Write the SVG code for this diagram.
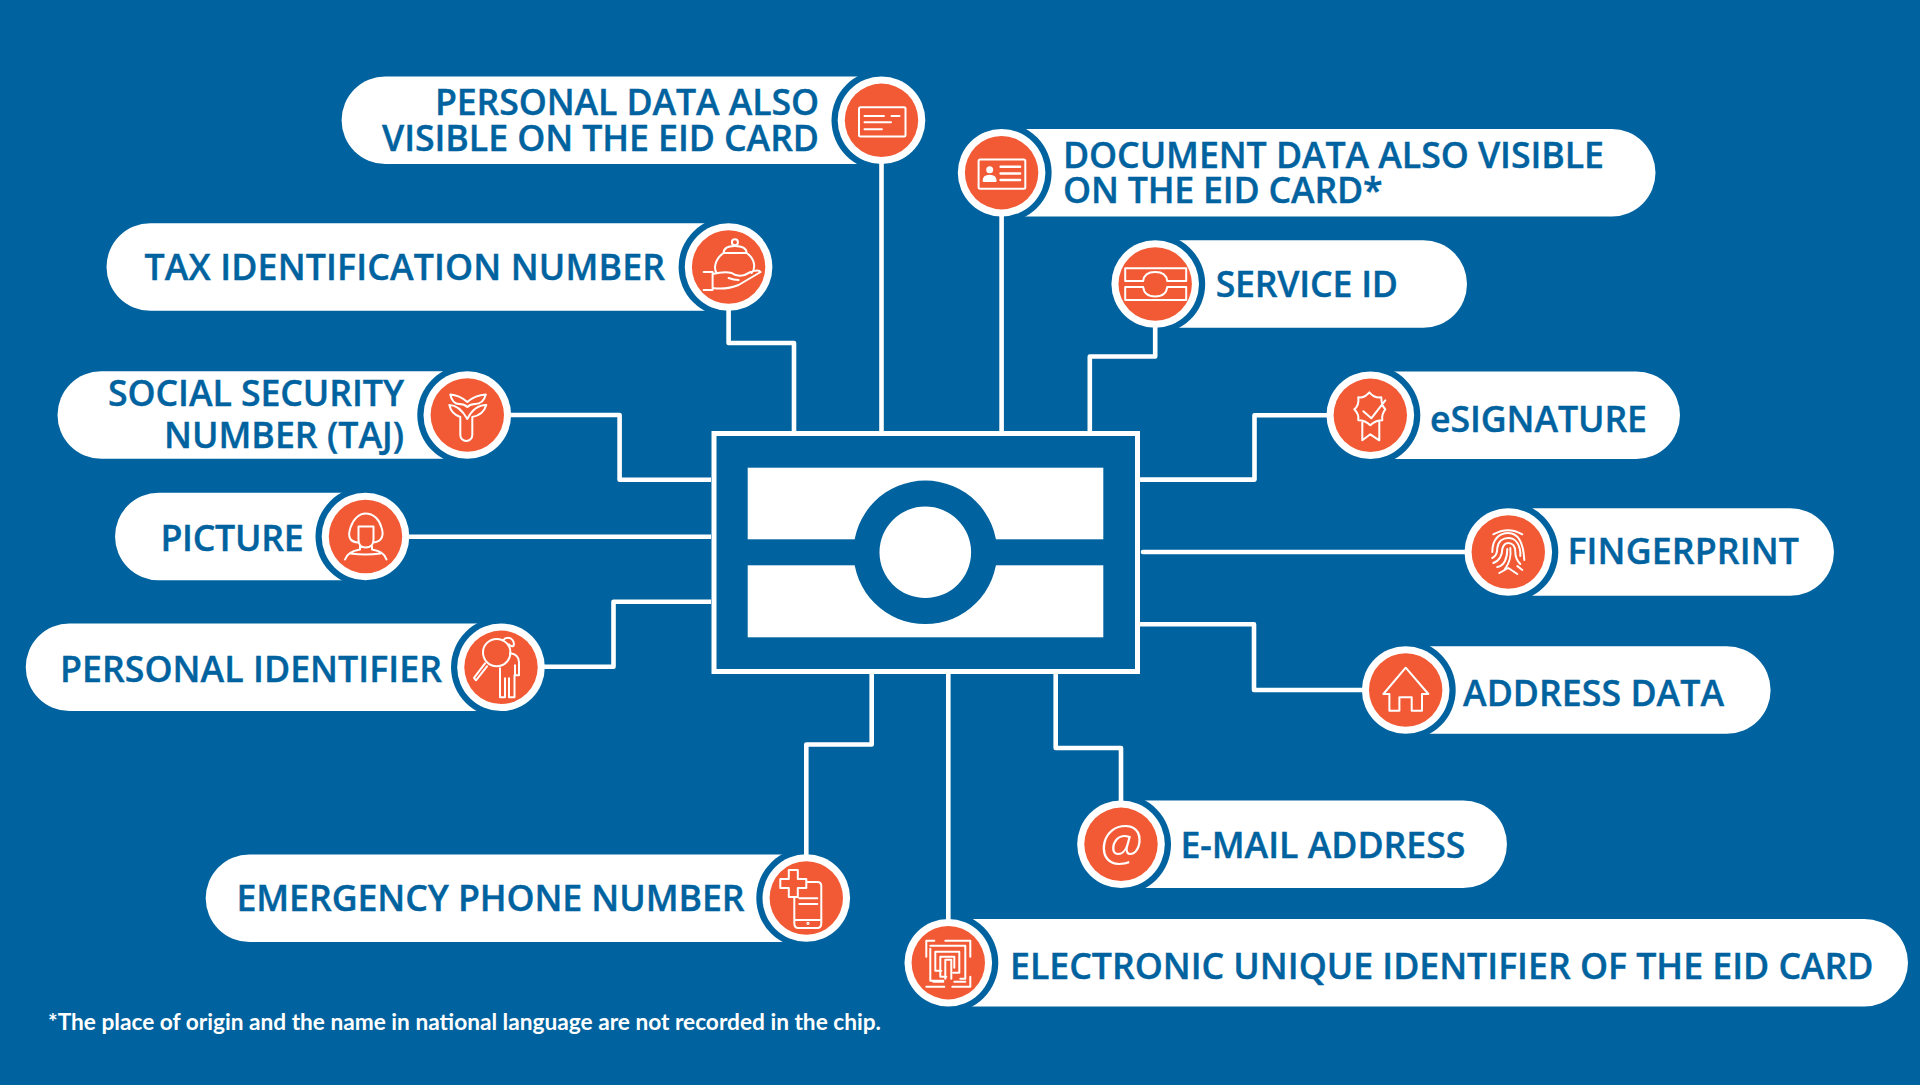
<svg xmlns="http://www.w3.org/2000/svg" width="1920" height="1085" viewBox="0 0 1920 1085">
<style>
.pill{fill:#fff}
.halo{fill:#00639f}
.ring{fill:#fff}
.disc{fill:#f15a35}
.lbl{font-family:"Open Sans","Liberation Sans",sans-serif;font-weight:600;font-size:35.700px;fill:#00639f;stroke:#00639f;stroke-width:.4}
.end{text-anchor:end}
.ic{fill:none;stroke:#fff;stroke-width:2;stroke-linecap:round;stroke-linejoin:round}
.con{fill:none;stroke:#fff;stroke-width:4.600;stroke-linejoin:round}
</style>
<defs>
<g id="badge"><circle class="halo" r="50"/><circle class="ring" r="43.800"/><circle class="disc" r="36.700"/></g>
</defs>
<rect width="1920" height="1085" fill="#00639f"/>
<g id="chip">
<rect x="714" y="433.500" width="423.500" height="238" fill="#00639f" stroke="#fff" stroke-width="5"/>
<rect x="747.700" y="467.700" width="355.600" height="71.600" fill="#fff"/>
<rect x="747.700" y="565.300" width="355.600" height="72" fill="#fff"/>
<circle cx="925.300" cy="552.300" r="71.800" fill="#00639f"/>
<circle cx="925.300" cy="552.300" r="45.800" fill="#fff"/>
</g>
<g id="node-personal-data">
<path class="pill" d="M385.400 76.500H880V164.100H385.400A43.800 43.800 0 0 1 385.400 76.500Z"/>
<use href="#badge" x="881.500" y="120.300"/>
<text class="lbl end" x="819" y="115" textLength="384">PERSONAL DATA ALSO</text>
<text class="lbl end" x="819" y="150.700" textLength="437">VISIBLE ON THE EID CARD</text>
<g class="ic" transform="translate(881.500 120.300)"><rect x="-22.500" y="-13" width="46.500" height="29.300" rx="1.500"/><path d="M-17-4.300H2.400M10-4.300H18M-17 2H9.500M-17 9H.4"/></g>
</g>
<g id="node-tax">
<path class="pill" d="M150.300 223.200H727V310.800H150.300A43.800 43.800 0 0 1 150.300 223.200Z"/>
<use href="#badge" x="728.600" y="267"/>
<text class="lbl end" x="665" y="280" textLength="520.500">TAX IDENTIFICATION NUMBER</text>
<g class="ic" transform="translate(728.600 267)"><circle cx="6.300" cy="-24.700" r="3"/><path d="M-5-14Q-5-21 6-21Q18-21 18-14ZM-5-14C-14-8-15 2-12 6M18-14C27-8 27 2 23 6M-16 7Q-4 4 3 6Q8 10 16 8L22 5Q30 2 32 5L10 18Q-2 23-16 21M0 11Q5 13 10 13M-25 5H-16V23H-25"/></g>
</g>
<g id="node-social">
<path class="pill" d="M101.300 371.200H465V458.800H101.300A43.800 43.800 0 0 1 101.300 371.200Z"/>
<use href="#badge" x="467.300" y="415"/>
<text class="lbl end" x="404" y="406" textLength="296">SOCIAL SECURITY</text>
<text class="lbl end" x="404" y="448" textLength="240">NUMBER (TAJ)</text>
<g class="ic" transform="translate(467.300 415)"><path d="M-17-20.500Q-8-20 0-13Q8-20 18.500-20.500Q16-11 8-11Q3-11 0-8Q-3-11-8-11Q-15-11-17-20.500ZM-18-10Q-8-10 0 4Q7-10 19-10Q16 0 5 2V20A6 6 0 0 1-7 20V2Q-16-1-18-10Z"/></g>
</g>
<g id="node-picture">
<path class="pill" d="M158.800 492.700H364V580.300H158.800A43.800 43.800 0 0 1 158.800 492.700Z"/>
<use href="#badge" x="365.500" y="536.500"/>
<text class="lbl end" x="303.700" y="550.500" textLength="143.300">PICTURE</text>
<g class="ic" transform="translate(365.500 536.500)"><path d="M-8 6C-18 5-17-3-15-9C-12-18-6-23 0-23C8-23 14-17 16-9C18-3 18 5 8 6M-7-10H8V3Q8 11 0 11Q-7 11-7 3ZM-5.500 10V13Q-18 15-20.500 23M-15 17Q0 19 15 17M6.500 10V13Q19 15 21 23"/></g>
</g>
<g id="node-personal-identifier">
<path class="pill" d="M69.500 623.500H500V711.100H69.500A43.800 43.800 0 0 1 69.500 623.500Z"/>
<use href="#badge" x="501" y="667.300"/>
<text class="lbl end" x="442" y="682" textLength="382">PERSONAL IDENTIFIER</text>
<g class="ic" transform="translate(501 667.300)"><circle cx="-4.300" cy="-14.700" r="13.700"/><path d="M2-27Q4-29.500 6.700-29.500A6 6 0 0 1 12.500-21.500Q10-20 8-23M9-14Q18-13 18-5V8H14V-2M13.500 8V30H8V11M4 11V30H-1V1M-16-4L-27 10.500L-25 13L-14-1"/></g>
</g>
<g id="node-emergency">
<path class="pill" d="M249.500 854.500H805V942.100H249.500A43.800 43.800 0 0 1 249.500 854.500Z"/>
<use href="#badge" x="806.300" y="898"/>
<text class="lbl end" x="744.500" y="911" textLength="508">EMERGENCY PHONE NUMBER</text>
<g class="ic" transform="translate(806.300 898)"><path d="M-17.500-28H-8.500V-19H0V-10H-8.500V-1H-17.500V-10H-26V-19H-17.500ZM0-16H11Q15-16 15-12V25Q15 30 11 30H-8Q-12 30-12 25V-1M-7 .3H11M-7 6H11M-12 22H15"/><circle cx="1.700" cy="25.300" r=".6"/></g>
</g>
<g id="node-electronic">
<path class="pill" d="M950 918.900H1864.200A43.800 43.800 0 0 1 1864.200 1006.500H950Z"/>
<use href="#badge" x="948.300" y="962.700"/>
<text class="lbl" x="1010" y="979" textLength="863.500">ELECTRONIC UNIQUE IDENTIFIER OF THE EID CARD</text>
<g class="ic" transform="translate(948.300 962.700)"><path d="M-22-6V-22H-14M-3-22H22V-6M-18-14V18H-5M-18-17H17V16H12M-13-11H11V10H5M-13-11V8H-7M-8-6H6V5M-8-6V14H-2M-3 16V-3H3V16M-22 24H-4M4 24H22V14M-15 19H-5M6 19H17"/></g>
</g>
<g id="node-email">
<path class="pill" d="M1122 800.500H1463.200A43.800 43.800 0 0 1 1463.200 888.100H1122Z"/>
<use href="#badge" x="1121" y="844.300"/>
<text class="lbl" x="1180.400" y="858" textLength="285">E-MAIL ADDRESS</text>
<text x="1121" y="861" text-anchor="middle" font-family="Open Sans, Liberation Sans, sans-serif" font-style="italic" font-weight="300" font-size="50" fill="#fff">@</text>
</g>
<g id="node-address">
<path class="pill" d="M1407 646.200H1726.800A43.800 43.800 0 0 1 1726.800 733.800H1407Z"/>
<use href="#badge" x="1405.700" y="690"/>
<text class="lbl" x="1463" y="705.700" textLength="261">ADDRESS DATA</text>
<g class="ic" transform="translate(1405.700 690)"><path d="M-16.300 4H-22.300L0-22.300L22.700 4H16.300V20.700H6V7.300H-6.300V20.700H-16.300Z"/></g>
</g>
<g id="node-fingerprint">
<path class="pill" d="M1510 508.200H1790.200A43.800 43.800 0 0 1 1790.200 595.800H1510Z"/>
<use href="#badge" x="1508.300" y="552"/>
<text class="lbl" x="1567.400" y="564" textLength="231.600">FINGERPRINT</text>
<g class="ic" transform="translate(1508.300 552)"><path d="M-15-17.700Q0-26 14-17.700M-16 0C-16-14-8-19 0-19C10-19 15-10 16 8M-16 6C-12 4-11-1-11-4C-10-11-5-14 0-14C7-14 11-8 12 0V4M-15 11C-9 9-6 3-6-3C-5-7-3-9 0-9C4-9 7-6 7 0C7 5 9 9 12 12M-11 15C-4 14-1 6-1-3M2-4C3 4 2 10-4 18M-9 21L0 16L9 22M9 14L14 18"/></g>
</g>
<g id="node-esignature">
<path class="pill" d="M1372 371.500H1636.200A43.800 43.800 0 0 1 1636.200 459.100H1372Z"/>
<use href="#badge" x="1370.300" y="415.300"/>
<text class="lbl" x="1430" y="431.500" textLength="217">eSIGNATURE</text>
<g class="ic" transform="translate(1370.300 415.300)"><path d="M-1-23Q4-17 11-18Q11-10 15-6Q11-1 12 5Q5 5 0 10Q-5 5-12 5Q-11-1-16-6Q-11-10-12-18Q-6-17-1-23ZM-8 7V25L0 19L9 25V7M-7-4L1 3L15-15"/></g>
</g>
<g id="node-service">
<path class="pill" d="M1157 240.200H1423.200A43.800 43.800 0 0 1 1423.200 327.800H1157Z"/>
<use href="#badge" x="1155.200" y="284"/>
<text class="lbl" x="1215.700" y="296.700" textLength="182.300">SERVICE ID</text>
<g class="ic" transform="translate(1155.200 284)"><path d="M-12-3H-30V-15.700H31V-3H12Q11-12 0-12Q-11-12-12-3ZM-12 3H-30V16H31V3H12Q11 12.500 0 12.500Q-11 12.500-12 3Z"/></g>
</g>
<g id="node-document">
<path class="pill" d="M1003 128.900H1611.700A43.800 43.800 0 0 1 1611.700 216.500H1003Z"/>
<use href="#badge" x="1001.600" y="172.700"/>
<text class="lbl" x="1063" y="167.500" textLength="541">DOCUMENT DATA ALSO VISIBLE</text>
<text class="lbl" x="1063" y="203" textLength="319.500">ON THE EID CARD*</text>
<g class="ic" transform="translate(1001.600 172.700)"><rect x="-23" y="-13.300" width="46.700" height="29.300" rx="1.500"/><path d="M-1-6H18.500M-1 .7H18.500M-1 7.300H18.500" stroke-width="2.500"/><circle cx="-11.900" cy="-3" r="2.500" fill="#fff"/><path d="M-18 8.300Q-18 3-12 3Q-6 3-6 8.300Z" fill="#fff"/></g>
</g>
<g id="connectors">
<path class="con" d="M881.500 160V431"/>
<path class="con" d="M728.600 307V343H794V431"/>
<path class="con" d="M1001.600 212.700V431"/>
<path class="con" d="M1155.200 324V356.500H1089.800V431"/>
<path class="con" d="M1330 415.300H1254.500V479.600H1140"/>
<path class="con" stroke-linecap="round" d="M1143 552H1468"/>
<path class="con" d="M1365.700 690H1254V624.300H1140"/>
<path class="con" d="M1121 804.300V748H1055.700V674"/>
<path class="con" d="M948.300 922.700V674"/>
<path class="con" d="M806.300 858V744.500H871.700V674"/>
<path class="con" d="M541 666.700H613.500V601.700H711"/>
<path class="con" d="M405.500 536.700H711"/>
<path class="con" d="M507.300 415H619.600V479.700H711"/>
</g>
<text id="footnote" x="48" y="1030" font-family="Lato, Open Sans, sans-serif" font-weight="700" font-size="23.500" textLength="833" lengthAdjust="spacingAndGlyphs" fill="#fff">*The place of origin and the name in national language are not recorded in the chip.</text>
</svg>
